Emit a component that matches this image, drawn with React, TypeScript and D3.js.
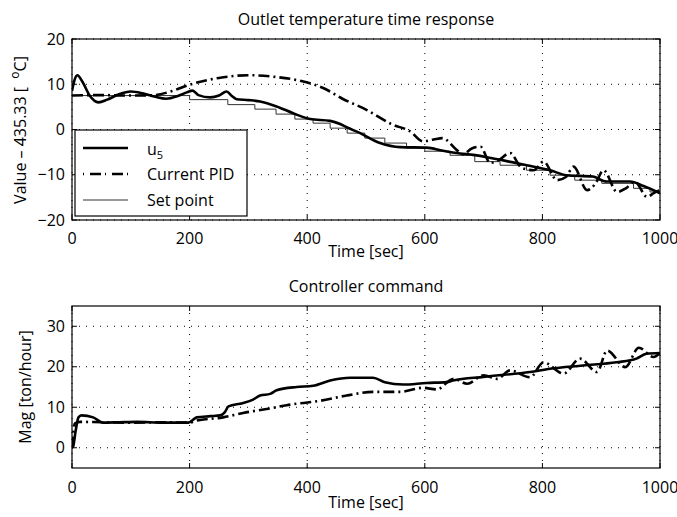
import React from "react";
import * as d3 from "d3";

const timeTicks = [0, 200, 400, 600, 800, 1000];
const tempTicks = [-20, -10, 0, 10, 20];
const magTicks = [0, 10, 20, 30];

// Top panel: set point (staircase)
const spT = [0, 200, 265, 311, 347, 379, 410, 439, 468, 498, 532, 569, 600, 643, 685, 728, 773, 813, 855, 901, 955, 983, 1000];
const spV = [7.5, 6.6, 5.5, 4.5, 3.4, 2.3, 1.4, 0.3, -0.8, -1.9, -3.0, -4.1, -4.8, -5.7, -7.1, -7.9, -9.0, -10.1, -11.2, -11.9, -13.0, -13.8, -13.8];

// Top panel: u5 response
const u5T = [0, 4, 9, 18, 30, 45, 60, 80, 100, 120, 140, 160, 180, 195, 205, 215, 235, 250, 263, 272, 280, 300, 320, 348, 376, 405, 439, 456, 467, 490, 524, 558, 603, 631, 660, 682, 728, 773, 813, 841, 886, 909, 949, 972, 1000];
const u5V = [8.5, 10.8, 12, 10.5, 7.5, 6.0, 6.6, 7.8, 8.4, 8.0, 7.3, 6.8, 7.4, 8.2, 8.6, 7.6, 7.1, 7.5, 8.4, 7.4, 6.7, 6.5, 6.2, 5.1, 3.6, 2.3, 1.9, 1.2, 0.5, -0.8, -3.0, -3.9, -4.0, -4.7, -5.3, -5.6, -6.7, -7.9, -9.0, -10.1, -10.4, -11.5, -11.5, -12.5, -14.1];

// Top panel: current PID response
const pidT = [0, 50, 100, 140, 170, 200, 250, 300, 340, 390, 430, 460, 500, 545, 575, 597, 615, 630, 654, 665, 680, 695, 711, 725, 745, 765, 785, 802, 825, 840, 853, 876, 890, 904, 927, 942, 957, 978, 990, 1000];
const pidV = [7.5, 7.6, 7.5, 7.6, 8.5, 9.9, 11.4, 12.0, 11.7, 10.7, 9.0, 6.8, 4.4, 1.1, -0.4, -2.6, -2.2, -1.9, -4.5, -5.5, -4.2, -3.8, -7.4, -6.8, -5.2, -8.5, -9.0, -7.1, -11.2, -10.5, -8.2, -13.4, -12.0, -9.0, -13.8, -13.0, -11.5, -14.9, -14.0, -13.4];

// Bottom panel: controller command
const cU5T = [0, 2, 6, 11, 16, 36, 53, 80, 110, 155, 198, 212, 235, 252, 260, 266, 290, 308, 320, 337, 348, 382, 410, 439, 473, 512, 532, 563, 603, 637, 648, 700, 779, 813, 869, 926, 960, 977, 1000];
const cU5V = [0, 0.3, 4, 7.5, 8.0, 7.5, 6.2, 6.3, 6.4, 6.2, 6.2, 7.5, 7.8, 8.0, 8.8, 10.2, 11.0, 11.9, 12.9, 13.3, 14.2, 15.0, 15.3, 16.6, 17.3, 17.3, 16.2, 15.6, 16.0, 16.2, 16.6, 17.5, 18.7, 19.5, 20.3, 21.1, 22.0, 23.2, 23.4];
const cPidT = [0, 5, 14, 50, 100, 150, 200, 212, 257, 291, 337, 365, 422, 467, 512, 558, 597, 620, 649, 672, 700, 723, 745, 779, 802, 836, 864, 893, 910, 941, 964, 989, 1000];
const cPidV = [0, 6.0, 6.4, 6.3, 6.2, 6.3, 6.2, 6.7, 7.5, 8.6, 9.7, 10.5, 11.6, 12.9, 13.8, 13.8, 14.8, 14.4, 17.0, 15.8, 17.9, 17.0, 19.1, 17.4, 21.1, 18.3, 22.0, 18.7, 24.0, 19.9, 24.7, 22.4, 23.4];

const FONT = "'Open Sans', 'DejaVu Sans', sans-serif";
const FS = 16;

type P = [number, number];
const zip = (a: number[], b: number[]): P[] => a.map((t, i) => [t, b[i]]);

function Panel(props: {
  top: number;
  bottom: number;
  yDomain: [number, number];
  yTicks: number[];
  title: string;
  titleY: number;
  xLabelY: number;
  tickLabelY: number;
  yLabel: React.ReactNode;
  id: string;
  children: (x: d3.ScaleLinear<number, number>, y: d3.ScaleLinear<number, number>) => React.ReactNode;
}) {
  const left = 72, right = 660;
  const x = d3.scaleLinear().domain([0, 1000]).range([left, right]);
  const y = d3.scaleLinear().domain(props.yDomain).range([props.bottom, props.top]);
  const tl = 5;
  return (
    <g>
      <defs>
        <clipPath id={props.id}>
          <rect x={left} y={props.top} width={right - left} height={props.bottom - props.top} />
        </clipPath>
      </defs>
      <rect x={left} y={props.top} width={right - left} height={props.bottom - props.top} fill="#fff" />
      {timeTicks.map((t) => (
        <line key={"gx" + t} x1={x(t)} x2={x(t)} y1={props.top} y2={props.bottom} stroke="#000" strokeWidth={1} strokeDasharray="1,6" />
      ))}
      {props.yTicks.map((v) => (
        <line key={"gy" + v} x1={left} x2={right} y1={y(v)} y2={y(v)} stroke="#000" strokeWidth={1} strokeDasharray="1,6" />
      ))}
      <g clipPath={`url(#${props.id})`}>{props.children(x, y)}</g>
      <rect x={left} y={props.top} width={right - left} height={props.bottom - props.top} fill="none" stroke="#000" strokeWidth={1.2} />
      {timeTicks.map((t) => (
        <g key={"tx" + t}>
          <line x1={x(t)} x2={x(t)} y1={props.bottom} y2={props.bottom - tl} stroke="#000" />
          <line x1={x(t)} x2={x(t)} y1={props.top} y2={props.top + tl} stroke="#000" />
          <text x={x(t)} y={props.tickLabelY} textAnchor="middle" fontSize={FS} fontFamily={FONT}>{t}</text>
        </g>
      ))}
      {props.yTicks.map((v) => (
        <g key={"ty" + v}>
          <line x1={left} x2={left + tl} y1={y(v)} y2={y(v)} stroke="#000" />
          <line x1={right} x2={right - tl} y1={y(v)} y2={y(v)} stroke="#000" />
          <text x={left - 7} y={y(v) + 5.5} textAnchor="end" fontSize={FS} fontFamily={FONT}>{v < 0 ? "\u2212" + Math.abs(v) : v}</text>
        </g>
      ))}
      <text x={(left + right) / 2} y={props.titleY} textAnchor="middle" fontSize={FS} fontFamily={FONT}>{props.title}</text>
      <text x={(left + right) / 2} y={props.xLabelY} textAnchor="middle" fontSize={FS} fontFamily={FONT}>Time [sec]</text>
      {props.yLabel}
    </g>
  );
}

export default function App() {
  const lineSmooth = (x: any, y: any) => d3.line<P>().x((d) => x(d[0])).y((d) => y(d[1])).curve(d3.curveMonotoneX);
  const lineStep = (x: any, y: any) => d3.line<P>().x((d) => x(d[0])).y((d) => y(d[1])).curve(d3.curveStepAfter);
  const dashDot = "11,4,2,4";
  return (
    <svg width={677} height={517} style={{ display: "block", position: "absolute", left: 0, top: 0, background: "#fff" }}>
      <rect width={677} height={517} fill="#fff" />
      <Panel
        id="c1"
        top={39}
        bottom={220}
        yDomain={[-20, 20]}
        yTicks={tempTicks}
        title="Outlet temperature time response"
        titleY={25}
        xLabelY={257}
        tickLabelY={244}
        yLabel={
          <text transform="translate(26,130) rotate(-90)" textAnchor="middle" fontSize={FS} fontFamily={FONT}>
            Value {"\u2013"} 435.33 [{"\u00a0\u00a0"}<tspan dy={-7} fontSize={12}>o</tspan><tspan dy={7}>C]</tspan>
          </text>
        }
      >
        {(x, y) => (
          <g fill="none">
            <path d={lineStep(x, y)(zip(spT, spV)) || ""} stroke="#333" strokeWidth={1} />
            <path d={lineSmooth(x, y)(zip(pidT, pidV)) || ""} stroke="#000" strokeWidth={2.6} strokeDasharray={dashDot} />
            <path d={lineSmooth(x, y)(zip(u5T, u5V)) || ""} stroke="#000" strokeWidth={2.6} />
          </g>
        )}
      </Panel>
      <g>
        <rect x={75} y={130} width={172} height={86} fill="#fff" stroke="#000" strokeWidth={1.2} />
        <line x1={83} x2={128} y1={148} y2={148} stroke="#000" strokeWidth={2.6} />
        <text x={147} y={155} fontSize={FS} fontFamily={FONT}>u<tspan dy={4} fontSize={11}>5</tspan></text>
        <line x1={83} x2={128} y1={174} y2={174} stroke="#000" strokeWidth={2.6} strokeDasharray="1,6,11,4" />
        <text x={147} y={180} fontSize={FS} fontFamily={FONT}>Current PID</text>
        <line x1={83} x2={128} y1={200} y2={200} stroke="#333" strokeWidth={1} />
        <text x={147} y={206} fontSize={FS} fontFamily={FONT}>Set point</text>
      </g>
      <Panel
        id="c2"
        top={306}
        bottom={468}
        yDomain={[-5, 35]}
        yTicks={magTicks}
        title="Controller command"
        titleY={292}
        xLabelY={508}
        tickLabelY={493}
        yLabel={
          <text transform="translate(31,387) rotate(-90)" textAnchor="middle" fontSize={FS} fontFamily={FONT}>
            Mag [ton/hour]
          </text>
        }
      >
        {(x, y) => (
          <g fill="none">
            <path d={lineSmooth(x, y)(zip(cPidT, cPidV)) || ""} stroke="#000" strokeWidth={2.6} strokeDasharray={dashDot} />
            <path d={lineSmooth(x, y)(zip(cU5T, cU5V)) || ""} stroke="#000" strokeWidth={2.6} />
          </g>
        )}
      </Panel>
    </svg>
  );
}
